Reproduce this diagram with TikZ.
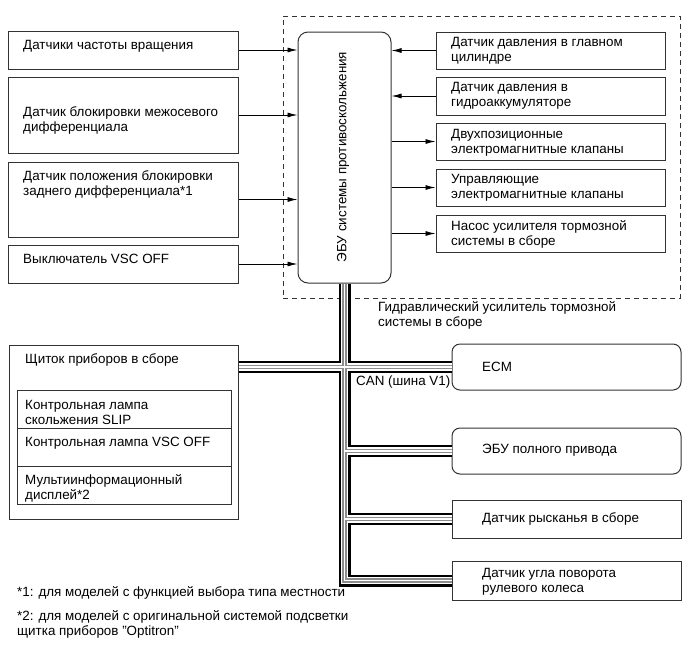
\documentclass[tikz,border=0pt]{standalone}
\usepackage{fontspec}
\setmainfont{Liberation Sans}
\usetikzlibrary{arrows.meta}
\begin{document}
\begin{tikzpicture}[x=1pt,y=-1pt,
  box/.style={draw=black!80, line width=1pt, inner sep=0pt},
  rbox/.style={box, rounded corners=8pt},
  txt/.style={anchor=west, align=left, inner sep=0pt, font=\fontsize{13.4}{15}\selectfont},
  arr/.style={line width=0.9pt, -{Latex[length=10pt,width=5pt]}},
  dashbox/.style={draw=black!80, line width=0.9pt, dash pattern=on 5pt off 4pt, inner sep=0pt},
]
\useasboundingbox (0,0) rectangle (690,659);

% hydraulic booster (dashed)
\node[dashbox, minimum width=397pt, minimum height=282pt] (hyd) at (481.5,157) {};

% left input boxes
\node[box, minimum width=230pt, minimum height=38pt] (L1) at (123,50) {};
\node[box, minimum width=230pt, minimum height=76pt] (L2) at (123,115) {};
\node[box, minimum width=230pt, minimum height=75pt] (L3) at (123,199.5) {};
\node[box, minimum width=230pt, minimum height=38pt] (L4) at (123,264) {};
\node[txt] (tL1) at (23,46) {Датчики частоты вращения};
\node[txt] (tL2) at (23,120.5) {Датчик блокировки межосевого\\дифференциала};
\node[txt] (tL3) at (23,184.5) {Датчик положения блокировки\\заднего дифференциала*1};
\node[txt] (tL4) at (23,258.5) {Выключатель VSC OFF};

% ECU
\node[box, rounded corners=10pt, minimum width=93pt, minimum height=251pt] (ecu) at (344.5,157.5) {};
\node[inner sep=0pt, rotate=90, font=\fontsize{13.4}{15}\selectfont] (tecu) at (343,157) {ЭБУ системы противоскольжения};

% right boxes
\node[box, minimum width=229pt, minimum height=37pt] (R1) at (550.5,50.5) {};
\node[box, minimum width=229pt, minimum height=38pt] (R2) at (550.5,96) {};
\node[box, minimum width=229pt, minimum height=37pt] (R3) at (550.5,141.5) {};
\node[box, minimum width=229pt, minimum height=37pt] (R4) at (550.5,187.5) {};
\node[box, minimum width=229pt, minimum height=37pt] (R5) at (550.5,233.5) {};
\node[txt] (tR1) at (451,50.5) {Датчик давления в главном\\цилиндре};
\node[txt] (tR2) at (451,96) {Датчик давления в\\гидроаккумуляторе};
\node[txt] (tR3) at (451,142.5) {Двухпозиционные\\электромагнитные клапаны};
\node[txt] (tR4) at (451,187.5) {Управляющие\\электромагнитные клапаны};
\node[txt] (tR5) at (451,234) {Насос усилителя тормозной\\системы в сборе};

\node[txt] (thyd) at (378,315.5) {Гидравлический усилитель тормозной\\системы в сборе};

% arrows
\foreach \b in {L1,L2,L3,L4}
  \draw[arr] (\b.east) -- (\b.east -| ecu.west);
\foreach \b in {R1,R2}
  \draw[arr] (\b.west) -- (\b.west -| ecu.east);
\foreach \b in {R3,R4,R5}
  \draw[arr] (\b.west -| ecu.east) -- (\b.west);

% instrument cluster
\node[box, minimum width=229pt, minimum height=174pt] (clu) at (123.5,432) {};
\node[box, minimum width=214pt, minimum height=114pt] (inner) at (124,447) {};
\draw[box] (inner.west |- 0,428) -- (inner.east |- 0,428);
\draw[box] (inner.west |- 0,466) -- (inner.east |- 0,466);
\node[txt] (tclu) at (25,360) {Щиток приборов в сборе};
\node[txt] (tslip) at (25,412) {Контрольная лампа\\скольжения SLIP};
\node[txt] (tvsc) at (25,443) {Контрольная лампа VSC OFF};
\node[txt] (tmid) at (25,488) {Мультиинформационный\\дисплей*2};

% lower right boxes
\node[rbox, minimum width=229pt, minimum height=46pt] (ecm) at (566.5,367) {};
\node[rbox, minimum width=229pt, minimum height=46pt] (awd) at (566.5,451) {};
\node[box, minimum width=229pt, minimum height=38pt] (yaw) at (566.5,519) {};
\node[box, minimum width=229pt, minimum height=39pt] (str) at (566.5,580.5) {};
\node[txt] (tecm) at (482,367) {ECM};
\node[txt] (tawd) at (482,450) {ЭБУ полного привода};
\node[txt] (tyaw) at (482,519) {Датчик рысканья в сборе};
\node[txt] (tstr) at (482,581.5) {Датчик угла поворота\\рулевого колеса};

\node[txt] (tcan) at (356,382) {CAN (шина V1)};

% CAN bus
\newcommand\canpaths{
  (ecu.south) -- (ecu.south |- str.west) -- (str.west)
  (ecm.west -| clu.east) -- (ecm.west)
  (ecu.south |- awd.west) -- (awd.west)
  (ecu.south |- yaw.west) -- (yaw.west)}
\draw[line width=12pt, black, line join=miter] \canpaths;
\draw[line width=7.4pt, white, line join=miter] \canpaths;
\draw[line width=4.2pt, black!45, line join=miter] \canpaths;
\draw[line width=1.8pt, white, line join=miter] \canpaths;

% footnotes
\node[txt] (fn1) at (17,593) {*1: для моделей с функцией выбора типа местности};
\node[txt] (fn2) at (17,624.5) {*2: для моделей с оригинальной системой подсветки\\щитка приборов "Optitron"};
\end{tikzpicture}
\end{document}
